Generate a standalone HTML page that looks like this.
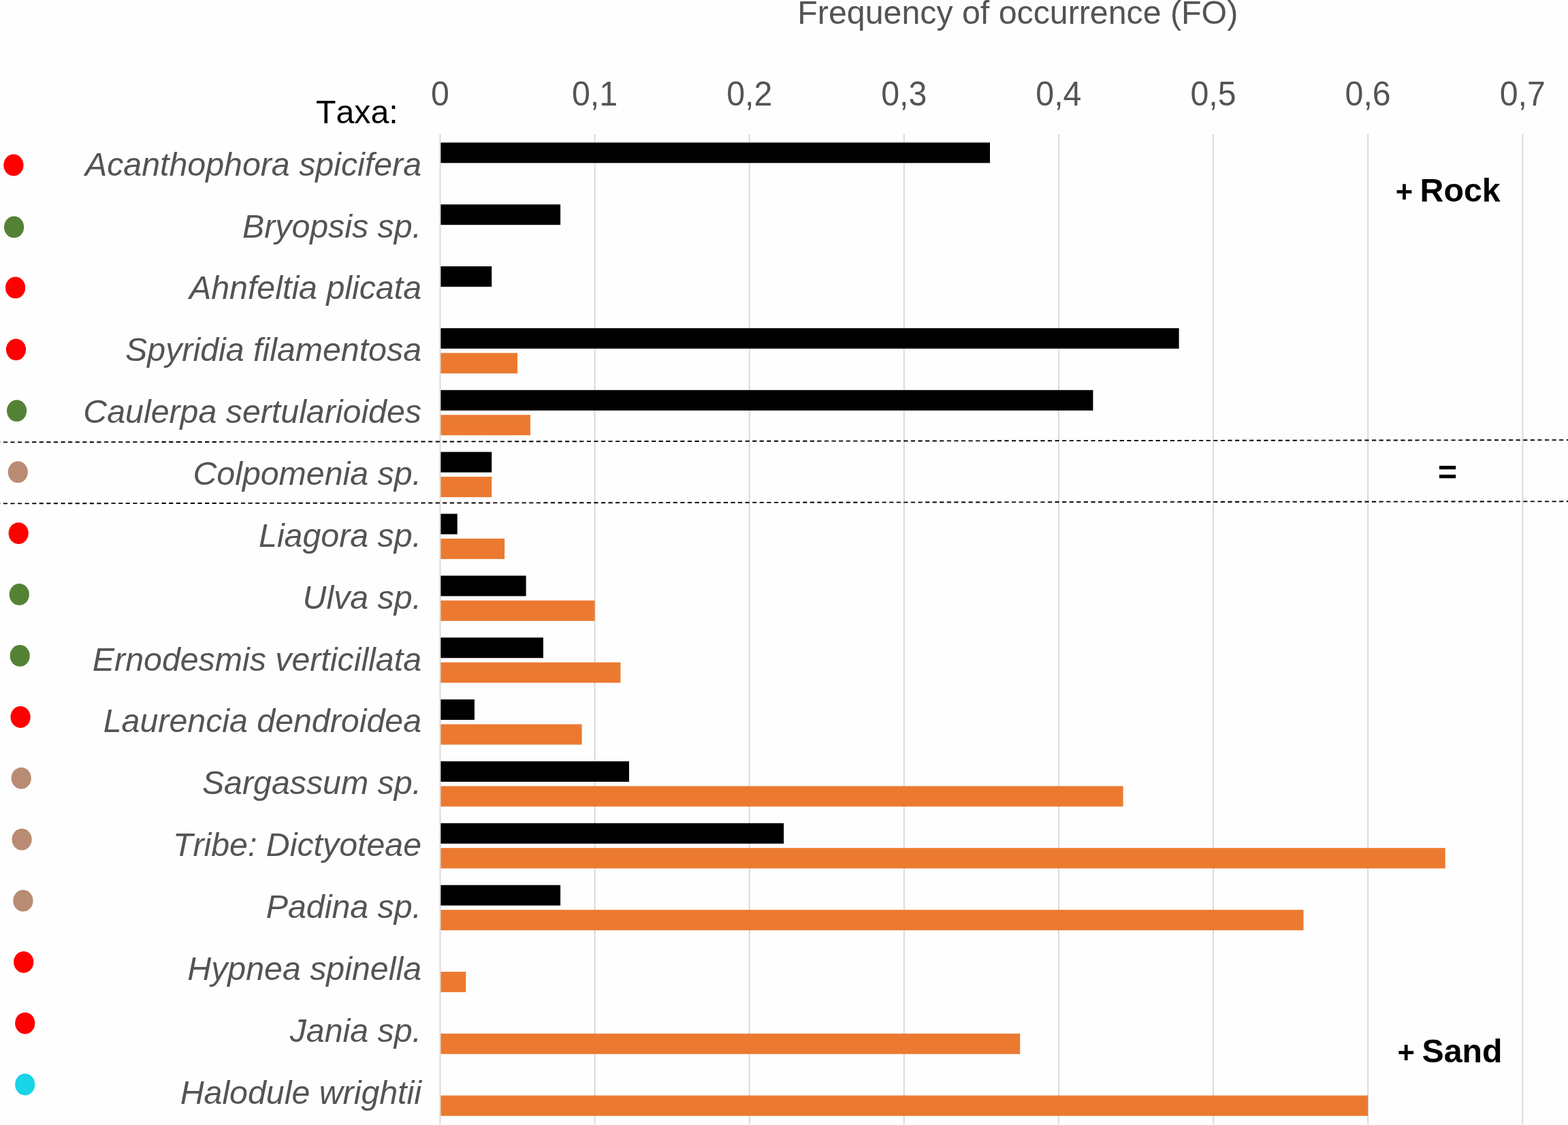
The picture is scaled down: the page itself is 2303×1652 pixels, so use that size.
<!DOCTYPE html>
<html lang="en">
<head>
<meta charset="utf-8">
<title>Frequency of occurrence (FO)</title>
<style>
html,body{margin:0;padding:0;background:#fefefe;}
body{width:2303px;height:1652px;overflow:hidden;}
svg{display:block;position:absolute;left:0;top:0;}
text{font-family:"Liberation Sans",Arial,Helvetica,sans-serif;font-size:48.3px;font-kerning:none;}
.ax{fill:#545454;text-anchor:middle;}
.lb{fill:#545454;font-style:italic;text-anchor:end;}
.bd{fill:#000;font-weight:bold;}
</style>
</head>
<body>
<svg width="2303" height="1652" viewBox="0 0 2303 1652">
<rect x="0" y="0" width="2303" height="1652" fill="#fefefe"/>

<g fill="#d9d9d9">
<rect x="645.45" y="197" width="2" height="1454"/>
<rect x="872.57" y="197" width="2" height="1454"/>
<rect x="1099.69" y="197" width="2" height="1454"/>
<rect x="1326.81" y="197" width="2" height="1454"/>
<rect x="1553.93" y="197" width="2" height="1454"/>
<rect x="1781.05" y="197" width="2" height="1454"/>
<rect x="2008.17" y="197" width="2" height="1454"/>
<rect x="2235.29" y="197" width="2" height="1454"/>
</g>
<g class="ax" transform="translate(0,154.8) scale(1,1.045) translate(0,-154.8)">
<text x="646.45" y="154.8">0</text>
<text x="873.57" y="154.8">0,1</text>
<text x="1100.69" y="154.8">0,2</text>
<text x="1327.81" y="154.8">0,3</text>
<text x="1554.93" y="154.8">0,4</text>
<text x="1782.05" y="154.8">0,5</text>
<text x="2009.17" y="154.8">0,6</text>
<text x="2236.29" y="154.8">0,7</text>
</g>
<text x="1494.8" y="35.3" class="ax">Frequency of occurrence (FO)</text>
<text x="464" y="180.5" fill="#000">Taxa:</text>
<g>
<rect x="647.4" y="209.35" width="806.6" height="30" fill="#000"/>
<rect x="647.4" y="300.21" width="175.7" height="30" fill="#000"/>
<rect x="647.4" y="391.07" width="74.8" height="30" fill="#000"/>
<rect x="647.4" y="481.93" width="1084.2" height="30" fill="#000"/>
<rect x="647.4" y="518.33" width="112.6" height="30" fill="#eb7a30"/>
<rect x="647.4" y="572.79" width="958.0" height="30" fill="#000"/>
<rect x="647.4" y="609.19" width="131.5" height="30" fill="#eb7a30"/>
<rect x="647.4" y="663.65" width="74.8" height="30" fill="#000"/>
<rect x="647.4" y="700.05" width="74.8" height="30" fill="#eb7a30"/>
<rect x="647.4" y="754.51" width="24.3" height="30" fill="#000"/>
<rect x="647.4" y="790.91" width="93.7" height="30" fill="#eb7a30"/>
<rect x="647.4" y="845.37" width="125.2" height="30" fill="#000"/>
<rect x="647.4" y="881.77" width="226.2" height="30" fill="#eb7a30"/>
<rect x="647.4" y="936.23" width="150.5" height="30" fill="#000"/>
<rect x="647.4" y="972.63" width="264.0" height="30" fill="#eb7a30"/>
<rect x="647.4" y="1027.09" width="49.5" height="30" fill="#000"/>
<rect x="647.4" y="1063.49" width="207.2" height="30" fill="#eb7a30"/>
<rect x="647.4" y="1117.95" width="276.6" height="30" fill="#000"/>
<rect x="647.4" y="1154.35" width="1002.2" height="30" fill="#eb7a30"/>
<rect x="647.4" y="1208.81" width="503.8" height="30" fill="#000"/>
<rect x="647.4" y="1245.21" width="1475.3" height="30" fill="#eb7a30"/>
<rect x="647.4" y="1299.67" width="175.7" height="30" fill="#000"/>
<rect x="647.4" y="1336.07" width="1267.1" height="30" fill="#eb7a30"/>
<rect x="647.4" y="1426.93" width="36.9" height="30" fill="#eb7a30"/>
<rect x="647.4" y="1517.79" width="850.8" height="30" fill="#eb7a30"/>
<rect x="647.4" y="1608.65" width="1361.8" height="30" fill="#eb7a30"/>
</g>
<g class="lb">
<text x="619" y="257.70">Acanthophora spicifera</text>
<text x="619" y="348.56">Bryopsis sp.</text>
<text x="619" y="439.42">Ahnfeltia plicata</text>
<text x="619" y="530.28">Spyridia filamentosa</text>
<text x="619" y="621.14">Caulerpa sertularioides</text>
<text x="619" y="712.00">Colpomenia sp.</text>
<text x="619" y="802.86">Liagora sp.</text>
<text x="619" y="893.72">Ulva sp.</text>
<text x="619" y="984.58">Ernodesmis verticillata</text>
<text x="619" y="1075.44">Laurencia dendroidea</text>
<text x="619" y="1166.30">Sargassum sp.</text>
<text x="619" y="1257.16">Tribe: Dictyoteae</text>
<text x="619" y="1348.02">Padina sp.</text>
<text x="619" y="1438.88">Hypnea spinella</text>
<text x="619" y="1529.74">Jania sp.</text>
<text x="619" y="1620.60">Halodule wrightii</text>
</g>
<g>
<ellipse cx="19.9" cy="242.5" rx="14.6" ry="15.9" fill="#ff0000"/>
<ellipse cx="20.6" cy="333.4" rx="14.6" ry="15.9" fill="#548235"/>
<ellipse cx="22.6" cy="422.4" rx="14.6" ry="15.9" fill="#ff0000"/>
<ellipse cx="23.5" cy="513.3" rx="14.6" ry="15.9" fill="#ff0000"/>
<ellipse cx="24.6" cy="603.2" rx="14.6" ry="15.9" fill="#548235"/>
<ellipse cx="26.3" cy="693.2" rx="14.6" ry="15.9" fill="#b98b73"/>
<ellipse cx="27.2" cy="783.1" rx="14.6" ry="15.9" fill="#ff0000"/>
<ellipse cx="28.3" cy="872.9" rx="14.6" ry="15.9" fill="#548235"/>
<ellipse cx="29.2" cy="962.9" rx="14.6" ry="15.9" fill="#548235"/>
<ellipse cx="30.1" cy="1053.0" rx="14.6" ry="15.9" fill="#ff0000"/>
<ellipse cx="31.2" cy="1142.8" rx="14.6" ry="15.9" fill="#b98b73"/>
<ellipse cx="32.1" cy="1232.7" rx="14.6" ry="15.9" fill="#b98b73"/>
<ellipse cx="33.9" cy="1322.7" rx="14.6" ry="15.9" fill="#b98b73"/>
<ellipse cx="34.7" cy="1412.8" rx="14.6" ry="15.9" fill="#ff0000"/>
<ellipse cx="36.7" cy="1502.6" rx="14.6" ry="15.9" fill="#ff0000"/>
<ellipse cx="36.7" cy="1592.5" rx="14.6" ry="15.9" fill="#17d4e6"/>
</g>
<g stroke="#000" stroke-width="1.9" stroke-dasharray="6.2 4.38" fill="none">
<line x1="-5.78" y1="649.4" x2="2310" y2="646.1"/>
<line x1="-5.78" y1="739.4" x2="2310" y2="736.3"/>
</g>
<text class="bd"><tspan x="2049.8" y="296.85" font-size="43.5">+ </tspan><tspan x="2085.5" y="295.8">Rock</tspan></text>
<text x="2112" y="710" class="bd">=</text>
<text class="bd"><tspan x="2052.6" y="1560.7" font-size="43.5">+ </tspan><tspan x="2088.5" y="1559.8">Sand</tspan></text>
</svg>
</body>
</html>
